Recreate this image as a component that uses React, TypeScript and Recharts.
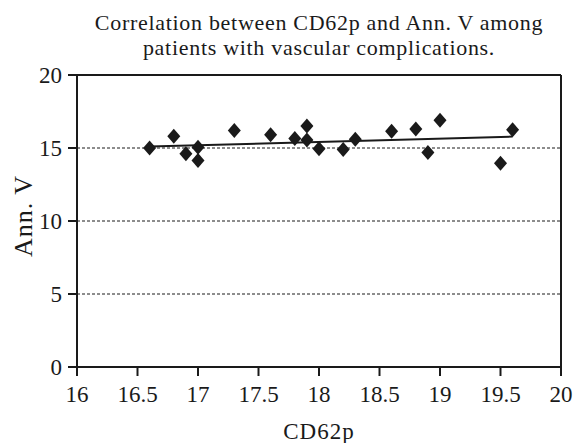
import {
  ScatterChart,
  Scatter,
  XAxis,
  YAxis,
  CartesianGrid,
  ReferenceLine,
} from "recharts";

// CD62p (x) vs Ann. V (y), patients with vascular complications
const cd62p = [16.6, 16.8, 16.9, 17.0, 17.0, 17.3, 17.6, 17.8, 17.9, 17.9, 18.0, 18.2, 18.3, 18.6, 18.8, 18.9, 19.0, 19.5, 19.6];
const annV = [15.0, 15.8, 14.6, 15.05, 14.15, 16.2, 15.9, 15.65, 16.5, 15.55, 14.95, 14.9, 15.6, 16.15, 16.3, 14.7, 16.9, 13.95, 16.25];

// regression line end points
const trendX = [16.6, 19.6];
const trendY = [15.1, 15.78];

const xTicks = [16, 16.5, 17, 17.5, 18, 18.5, 19, 19.5, 20];
const yTicks = [0, 5, 10, 15, 20];

const points = cd62p.map((x, i) => ({ x, y: annV[i] }));

const FONT = '"Liberation Serif", "DejaVu Serif", serif';
const INK = "#1a1a1a";

const Diamond = (props: any) => {
  const { cx, cy } = props;
  if (cx == null || cy == null) return null;
  const w = 6.5;
  const h = 7.5;
  return (
    <polygon
      points={`${cx},${cy - h} ${cx + w},${cy} ${cx},${cy + h} ${cx - w},${cy}`}
      fill={INK}
    />
  );
};

const XTick = (props: any) => {
  const { x, y, payload } = props;
  return (
    <text x={x} y={y} dy="0.71em" textAnchor="middle" fill={INK} fontFamily={FONT} fontSize={23}>
      {payload.value}
    </text>
  );
};

const YTick = (props: any) => {
  const { x, y, payload } = props;
  return (
    <text x={x} y={y} dy="0.355em" textAnchor="end" fill={INK} fontFamily={FONT} fontSize={23}>
      {payload.value}
    </text>
  );
};

export default function App() {
  return (
    <div style={{ position: "absolute", left: 0, top: 0, width: 574, height: 443, background: "#fff" }}>
      <div
        style={{
          position: "absolute",
          left: 19,
          width: 600,
          top: 11,
          textAlign: "center",
          fontFamily: FONT,
          fontSize: 22,
          lineHeight: "24.5px",
          letterSpacing: 0.7,
          color: INK,
          whiteSpace: "nowrap",
        }}
      >
        Correlation between CD62p and Ann. V among
        <br />
        patients with vascular complications.
      </div>
      <ScatterChart width={574} height={443} margin={{ top: 75, right: 13, bottom: 0, left: 0 }}>
        <CartesianGrid vertical={false} stroke={INK} strokeDasharray="3 2" strokeWidth={1} />
        <XAxis
          type="number"
          dataKey="x"
          domain={[16, 20]}
          ticks={xTicks}
          interval={0}
          height={76}
          stroke={INK}
          strokeWidth={2}
          tickSize={9}
          tickMargin={10}
          tick={<XTick />}
          label={{
            content: (p: any) => {
              const vb = p.viewBox;
              return (
                <text
                  x={vb.x + vb.width / 2}
                  y={vb.y + 71.5}
                  textAnchor="middle"
                  fill={INK}
                  fontFamily={FONT}
                  fontSize={23}
                  letterSpacing={1}
                >
                  CD62p
                </text>
              );
            },
          }}
        />
        <YAxis
          type="number"
          dataKey="y"
          domain={[0, 20]}
          ticks={yTicks}
          interval={0}
          width={77}
          stroke={INK}
          strokeWidth={2}
          tickSize={9}
          tickMargin={6}
          tick={<YTick />}
          label={{
            content: (p: any) => {
              const vb = p.viewBox;
              const cy = vb.y + vb.height / 2 - 5;
              return (
                <text
                  x={32}
                  y={cy}
                  textAnchor="middle"
                  transform={`rotate(-90 32 ${cy})`}
                  fill={INK}
                  fontFamily={FONT}
                  fontSize={26}
                  letterSpacing={1}
                >
                  Ann. V
                </text>
              );
            },
          }}
        />
        <ReferenceLine y={20} stroke={INK} strokeWidth={2} />
        <ReferenceLine x={20} stroke={INK} strokeWidth={2} />
        <ReferenceLine
          segment={[
            { x: trendX[0], y: trendY[0] },
            { x: trendX[1], y: trendY[1] },
          ]}
          stroke={INK}
          strokeWidth={2}
        />
        <Scatter data={points} shape={<Diamond />} isAnimationActive={false} />
      </ScatterChart>
    </div>
  );
}
